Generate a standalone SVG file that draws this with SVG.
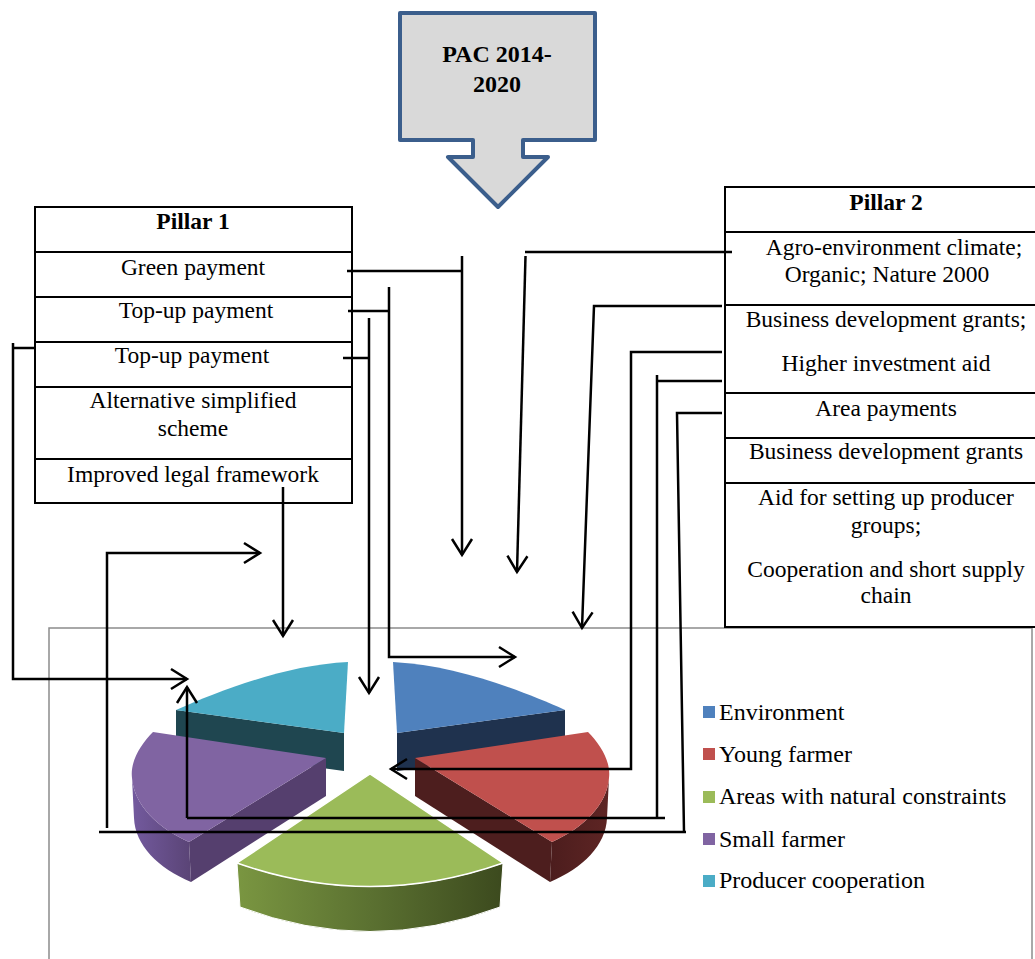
<svg xmlns="http://www.w3.org/2000/svg" width="1035" height="959" viewBox="0 0 1035 959">
<style>
.t{font-family:"Liberation Serif","Times New Roman",serif;font-size:23.5px;fill:#000;text-anchor:middle}
.b{font-weight:bold}
.lg{font-family:"Liberation Serif","Times New Roman",serif;font-size:24px;fill:#000}
.tbl{fill:#fff;stroke:#000;stroke-width:2}
.row{stroke:#000;stroke-width:2}
</style>
<defs>
<marker id="arr" viewBox="-18 -12 22 24" refX="0" refY="0" markerWidth="22" markerHeight="24" markerUnits="userSpaceOnUse" orient="auto" overflow="visible">
<path d="M-16,-10 L0,0 L-16,10" fill="none" stroke="#000" stroke-width="2.5"/>
</marker>
<linearGradient id="gSide" x1="0" y1="0" x2="1" y2="0">
<stop offset="0" stop-color="#7A9641"/><stop offset="0.5" stop-color="#5B7131"/><stop offset="1" stop-color="#3C4A1E"/>
</linearGradient>
<linearGradient id="pSide" x1="0" y1="0" x2="1" y2="0">
<stop offset="0" stop-color="#735A9E"/><stop offset="1" stop-color="#5A4476"/>
</linearGradient>
<linearGradient id="rSide" x1="0" y1="0" x2="1" y2="0">
<stop offset="0" stop-color="#4C1D1D"/><stop offset="1" stop-color="#5E2524"/>
</linearGradient>
</defs>
<rect width="1035" height="959" fill="#fff"/>

<g id="chart-frame">
<rect x="49" y="628" width="983" height="400" fill="#fff" stroke="#8c8c8c" stroke-width="1.5"/>
</g>

<g id="pie">
<g id="slice-environment">
<path d="M397,733 L565,710 L565,748 L397,771 Z" fill="#1F324E"/>
<path d="M397,733 L393,662 C455,665 520,690 565,710 Z" fill="#4F81BD"/>
</g>
<g id="slice-producer-cooperation">
<path d="M344,733 L176,710 L176,748 L344,771 Z" fill="#1F4650"/>
<path d="M344,733 L348,662 C286,665 221,690 176,710 Z" fill="#4BACC6"/>
</g>
<g id="slice-young-farmer">
<path d="M415,758 L552,842 L550,882 L415,796 Z" fill="#4D1E1E"/>
<path d="M609,778 C607,805 583,828 552,842 L550,882 C583,868 606,845 607,818 Z" fill="url(#rSide)"/>
<path d="M415,758 L588,732 C601,745 611,762 609,778 C607,805 583,828 552,842 Z" fill="#C0504D"/>
</g>
<g id="slice-small-farmer">
<path d="M326,758 L189,842 L191,882 L326,796 Z" fill="#553F6E"/>
<path d="M132,778 C134,805 158,828 189,842 L191,882 C158,868 135,845 134,818 Z" fill="url(#pSide)"/>
<path d="M326,758 L153,732 C140,745 130,762 132,778 C134,805 158,828 189,842 Z" fill="#8064A2"/>
</g>
<g id="slice-areas-natural-constraints">
<path d="M237,863 Q370,910 503,863 L500,907 Q370,956 240,907 Z" fill="url(#gSide)" stroke="#fff" stroke-width="1"/>
<path d="M370,774 L237,863 Q370,910 503,863 Z" fill="#9BBB59" stroke="#fff" stroke-width="1.5"/>
</g>
</g>

<g id="legend">
<rect x="703" y="706" width="12" height="12" fill="#4F81BD"/>
<text class="lg" x="719" y="720">Environment</text>
<rect x="703" y="748" width="12" height="12" fill="#C0504D"/>
<text class="lg" x="719" y="762">Young farmer</text>
<rect x="703" y="791" width="12" height="12" fill="#9BBB59"/>
<text class="lg" x="719" y="804">Areas with natural constraints</text>
<rect x="703" y="833" width="12" height="12" fill="#8064A2"/>
<text class="lg" x="719" y="847">Small farmer</text>
<rect x="703" y="875" width="12" height="12" fill="#4BACC6"/>
<text class="lg" x="719" y="888">Producer cooperation</text>
</g>

<g id="pac">
<path d="M400,13 H595 V140 H523 V157 H548 L498,207 L448,157 H473 V140 H400 Z" fill="#D9D9D9" stroke="#3B5E8C" stroke-width="4" stroke-linejoin="round"/>
<text class="t b" x="497" y="62" style="font-size:24px">PAC 2014-</text>
<text class="t b" x="497" y="92" style="font-size:24px">2020</text>
</g>

<g id="pillar1">
<rect class="tbl" x="35" y="207" width="317" height="296"/>
<line class="row" x1="35" y1="252" x2="352" y2="252"/>
<line class="row" x1="35" y1="297" x2="352" y2="297"/>
<line class="row" x1="35" y1="342" x2="352" y2="342"/>
<line class="row" x1="35" y1="387" x2="352" y2="387"/>
<line class="row" x1="35" y1="459" x2="352" y2="459"/>
<text class="t b" x="193" y="229">Pillar 1</text>
<text class="t" x="193" y="275">Green payment</text>
<text class="t" x="196" y="318">Top-up payment</text>
<text class="t" x="192" y="363">Top-up payment</text>
<text class="t" x="193" y="408">Alternative simplified</text>
<text class="t" x="193" y="436">scheme</text>
<text class="t" x="193" y="482">Improved legal framework</text>
</g>

<g id="pillar2">
<rect class="tbl" x="725" y="187" width="330" height="440"/>
<line class="row" x1="725" y1="232" x2="1055" y2="232"/>
<line class="row" x1="725" y1="305" x2="1055" y2="305"/>
<line class="row" x1="725" y1="393" x2="1055" y2="393"/>
<line class="row" x1="725" y1="438" x2="1055" y2="438"/>
<line class="row" x1="725" y1="483" x2="1055" y2="483"/>
<text class="t b" x="886" y="210">Pillar 2</text>
<text class="t" x="894" y="255">Agro-environment climate;</text>
<text class="t" x="887" y="282">Organic; Nature 2000</text>
<text class="t" x="886" y="327">Business development grants;</text>
<text class="t" x="886" y="371">Higher investment aid</text>
<text class="t" x="886" y="416">Area payments</text>
<text class="t" x="886" y="459">Business development grants</text>
<text class="t" x="886" y="505">Aid for setting up producer</text>
<text class="t" x="886" y="533">groups;</text>
<text class="t" x="886" y="577">Cooperation and short supply</text>
<text class="t" x="886" y="603">chain</text>
</g>

<g id="connectors" fill="none" stroke="#000" stroke-width="2.5">
<path d="M347,271 H462"/>
<path d="M462,256 V555" marker-end="url(#arr)"/>
<path d="M348,311 H389"/>
<path d="M389,287 V657 H515" marker-end="url(#arr)"/>
<path d="M343,358 H369"/>
<path d="M369,318 V693" marker-end="url(#arr)"/>
<path d="M35,348 H13"/>
<path d="M13,343 V679 H187" marker-end="url(#arr)"/>
<path d="M283,487 V636" marker-end="url(#arr)"/>
<path d="M732,252 H525"/>
<path d="M525.5,256 L517,572" marker-end="url(#arr)"/>
<path d="M722,306 H594 L582,628" marker-end="url(#arr)"/>
<path d="M722,352 H631 V769 H391" marker-end="url(#arr)"/>
<path d="M722,381 H657"/>
<path d="M657,375 V818"/>
<path d="M665,818 H187"/>
<path d="M187,818 V687" marker-end="url(#arr)"/>
<path d="M722,413 H677 L684,832"/>
<path d="M686,832 H99"/>
<path d="M107,828 V553 H260" marker-end="url(#arr)"/>
</g>
</svg>
